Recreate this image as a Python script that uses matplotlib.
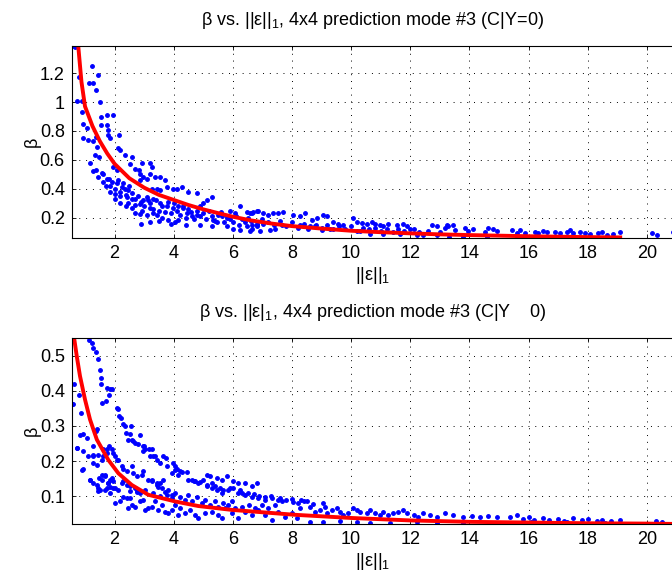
# coding=UTF-8
import numpy as np
import matplotlib.pyplot as plt

plt.rcParams['font.family'] = ['Liberation Sans', 'DejaVu Sans']
plt.rcParams['font.size'] = 13
plt.rcParams['mathtext.fontset'] = 'custom'
plt.rcParams['mathtext.rm'] = 'Liberation Sans'
plt.rcParams['mathtext.it'] = 'Liberation Sans:italic'

# ---- top panel: C|Y=0 ----
top_steep = [
    (0.55, 1.385), (0.66, 1.38), (0.81, 1.17), (1.23, 1.25), (1.45, 1.19), (1.26, 1.13),
    (1.15, 1.13), (1.37, 1.08), (0.74, 1.01), (0.89, 1.01), (1.51, 1.00), (0.89, 0.93),
    (1.53, 0.90), (1.73, 0.91), (1.93, 0.91), (0.92, 0.85), (1.06, 0.82), (1.53, 0.84),
    (1.73, 0.84), (1.77, 0.81), (1.79, 0.77), (1.85, 0.75), (0.92, 0.75), (1.11, 0.735),
    (1.28, 0.73), (1.37, 0.76), (1.40, 0.69), (2.15, 0.77), (1.34, 0.635), (1.49, 0.62),
    (2.13, 0.68), (2.19, 0.67), (2.35, 0.635), (2.58, 0.62), (1.17, 0.58), (1.28, 0.52),
    (1.37, 0.53), (1.57, 0.51), (1.62, 0.50), (1.45, 0.485), (1.73, 0.47), (1.96, 0.55),
    (2.07, 0.53), (2.52, 0.57), (2.69, 0.54), (2.81, 0.53), (2.92, 0.58), (2.86, 0.50),
    (2.97, 0.485), (3.20, 0.58), (3.26, 0.55),
]
top_band = [
    (1.90, 0.45), (2.07, 0.44), (1.85, 0.42), (2.24, 0.415), (2.35, 0.40), (2.47, 0.39),
    (1.85, 0.38), (2.02, 0.365), (2.19, 0.35), (2.41, 0.345), (2.58, 0.33), (2.86, 0.46),
    (3.09, 0.47), (3.20, 0.50), (3.37, 0.485), (3.54, 0.485), (3.71, 0.46), (3.26, 0.40),
    (3.43, 0.40), (3.54, 0.39), (3.76, 0.415), (3.99, 0.40), (4.10, 0.40), (4.27, 0.415),
    (4.50, 0.38), (4.78, 0.37), (2.47, 0.30), (2.69, 0.29), (2.86, 0.295), (2.97, 0.32),
    (3.14, 0.32), (3.31, 0.33), (2.58, 0.265), (2.92, 0.25), (3.20, 0.265), (2.69, 0.23),
    (2.86, 0.225), (3.09, 0.22), (3.31, 0.23), (3.54, 0.30), (3.76, 0.28), (3.99, 0.265),
    (4.16, 0.28), (3.43, 0.22), (3.59, 0.195), (3.82, 0.185), (4.05, 0.17), (4.16, 0.185),
    (4.33, 0.265), (4.44, 0.23), (4.61, 0.21), (4.78, 0.22), (4.89, 0.28), (5.00, 0.30),
    (5.12, 0.32), (5.29, 0.345), (5.34, 0.185), (5.45, 0.17), (5.62, 0.21), (5.79, 0.195),
    (5.91, 0.25), (6.07, 0.23), (6.24, 0.28), (6.47, 0.24), (6.64, 0.23), (6.81, 0.25),
    (5.79, 0.14), (6.02, 0.125), (6.24, 0.115), (6.47, 0.14), (6.64, 0.125), (6.81, 0.15),
    (2.90, 0.16), (3.20, 0.17), (3.50, 0.18), (3.90, 0.16), (4.40, 0.15), (4.90, 0.15),
    (5.30, 0.145), (1.60, 0.45), (1.70, 0.42), (1.80, 0.47), (2.00, 0.40), (2.10, 0.46),
    (2.20, 0.38), (2.30, 0.44), (2.40, 0.36), (2.50, 0.42), (2.60, 0.37), (2.70, 0.33),
    (2.00, 0.33), (2.20, 0.30), (2.40, 0.28), (2.80, 0.35), (2.90, 0.31), (3.00, 0.28),
    (3.10, 0.34), (3.20, 0.30), (3.30, 0.26), (3.40, 0.32), (3.50, 0.25), (3.60, 0.28),
    (3.70, 0.24), (3.80, 0.31), (3.90, 0.23), (4.00, 0.30), (4.10, 0.25), (4.20, 0.22),
    (4.30, 0.28), (4.40, 0.20), (4.50, 0.26), (4.60, 0.24), (4.70, 0.19), (4.80, 0.25),
    (4.90, 0.21), (5.00, 0.23), (5.10, 0.19), (5.20, 0.25), (5.30, 0.21), (5.40, 0.18),
    (5.50, 0.22), (5.60, 0.24), (5.70, 0.17), (5.80, 0.21), (5.90, 0.19), (6.00, 0.17),
    (6.10, 0.21), (6.20, 0.15), (6.30, 0.19), (6.40, 0.17), (6.50, 0.20), (6.60, 0.18),
    (6.80, 0.16), (7.00, 0.19), (7.20, 0.17), (7.40, 0.15), (7.60, 0.18), (7.80, 0.14),
]
top_tail = [
    (6.58, 0.23), (6.69, 0.24), (6.86, 0.25), (7.03, 0.23), (7.20, 0.22), (7.37, 0.23),
    (7.54, 0.235), (7.71, 0.24), (6.64, 0.15), (6.81, 0.14), (7.03, 0.16), (7.26, 0.115),
    (7.43, 0.125), (7.65, 0.15), (6.58, 0.105), (6.92, 0.105), (8.05, 0.22), (8.27, 0.21),
    (8.44, 0.23), (8.67, 0.185), (8.84, 0.195), (9.06, 0.22), (9.17, 0.21), (9.40, 0.17),
    (9.57, 0.16), (9.74, 0.15), (8.27, 0.15), (8.55, 0.125), (8.78, 0.14), (9.00, 0.115),
    (9.29, 0.125), (10.08, 0.195), (10.19, 0.17), (10.36, 0.165), (10.53, 0.16), (10.70, 0.17),
    (10.81, 0.16), (10.98, 0.15), (11.09, 0.14), (11.26, 0.155), (11.54, 0.15), (11.77, 0.16),
    (11.88, 0.14), (12.11, 0.125), (12.44, 0.08), (12.73, 0.15), (12.89, 0.14), (13.23, 0.15),
    (10.30, 0.105), (10.64, 0.09), (11.09, 0.09), (11.65, 0.09), (12.22, 0.08), (12.89, 0.08),
    (8.00, 0.17), (8.20, 0.13), (8.40, 0.16), (8.60, 0.14), (8.80, 0.15), (9.00, 0.13),
    (9.20, 0.15), (9.40, 0.12), (9.60, 0.14), (9.80, 0.12), (10.00, 0.14), (10.20, 0.11),
    (10.40, 0.13), (10.60, 0.12), (10.80, 0.13), (11.00, 0.11), (11.20, 0.12), (11.40, 0.10),
    (11.60, 0.12), (11.80, 0.11), (12.00, 0.12), (12.30, 0.10), (12.60, 0.11), (13.00, 0.10),
    (13.18, 0.126), (13.29, 0.142), (13.46, 0.149), (13.51, 0.115), (13.85, 0.126), (13.96, 0.11),
    (14.13, 0.119), (14.53, 0.103), (14.64, 0.126), (14.81, 0.119), (14.92, 0.11), (15.43, 0.115),
    (15.60, 0.092), (15.71, 0.115), (15.88, 0.096), (16.22, 0.103), (16.33, 0.092), (16.50, 0.108),
    (16.61, 0.103), (16.90, 0.103), (17.07, 0.092), (17.29, 0.103), (17.40, 0.115), (17.51, 0.096),
    (17.74, 0.103), (17.91, 0.096), (18.08, 0.085), (18.36, 0.096), (18.47, 0.103), (18.64, 0.08),
    (18.87, 0.085), (19.09, 0.099), (20.17, 0.096), (20.33, 0.08), (20.90, 0.10),
    (13.30, 0.07), (13.80, 0.07), (14.60, 0.065), (15.60, 0.062), (16.30, 0.06),
]
top_fit_x = [0.77, 0.88, 1.0, 1.25, 1.5, 1.75, 2.0, 2.5, 3.0, 3.5, 4.0, 4.5, 5.0, 5.5, 6.0,
             6.6, 7.3, 8, 9, 10, 11, 12, 13, 14, 15, 16, 17, 18, 19.1]
top_fit_y = [1.39, 1.14, 0.97, 0.835, 0.73, 0.645, 0.573, 0.473, 0.408, 0.358, 0.323, 0.288,
             0.258, 0.232, 0.207, 0.182, 0.16, 0.142, 0.125, 0.11, 0.10, 0.092, 0.085, 0.08,
             0.076, 0.072, 0.069, 0.066, 0.064]

# ---- bottom panel: C|Y!=0 ----
bot_arc = [
    (1.15, 0.545), (1.23, 0.537), (1.26, 0.521), (1.37, 0.509), (1.45, 0.491), (1.51, 0.458),
    (1.53, 0.437), (1.54, 0.418), (1.73, 0.409), (1.85, 0.406), (1.90, 0.404), (1.82, 0.387),
    (1.71, 0.370), (1.56, 0.366), (2.07, 0.352), (2.13, 0.347), (2.16, 0.328), (2.21, 0.323),
    (2.30, 0.304), (2.35, 0.299), (2.55, 0.299), (2.39, 0.280), (2.52, 0.278), (2.47, 0.261),
    (2.58, 0.261), (2.63, 0.256), (2.69, 0.252), (2.86, 0.273), (2.80, 0.249), (2.95, 0.244),
    (3.00, 0.242), (3.03, 0.235), (2.95, 0.228), (3.18, 0.235), (3.26, 0.233), (3.20, 0.214),
    (3.31, 0.214), (3.37, 0.214), (3.43, 0.204), (3.54, 0.195), (3.65, 0.214), (3.74, 0.209),
    (3.76, 0.185), (3.99, 0.193), (4.04, 0.185), (4.10, 0.176), (4.21, 0.171), (4.44, 0.168),
    (4.61, 0.147), (4.72, 0.142), (4.89, 0.139), (5.00, 0.147), (5.12, 0.128), (5.29, 0.138),
    (5.40, 0.128), (5.57, 0.123), (5.68, 0.119), (5.90, 0.123), (6.02, 0.123), (6.24, 0.119),
    (6.30, 0.109), (5.12, 0.161), (5.23, 0.156), (5.45, 0.152), (5.62, 0.147), (5.79, 0.156),
    (6.02, 0.142), (6.19, 0.137), (6.41, 0.137), (6.64, 0.128), (6.81, 0.137),
    (6.50, 0.110), (6.70, 0.105), (6.90, 0.100), (7.10, 0.098), (7.30, 0.100), (7.60, 0.095),
    (7.80, 0.090), (8.00, 0.092), (8.30, 0.090), (8.50, 0.085),
]
bot_left = [
    (0.55, 0.361), (0.61, 0.361), (0.63, 0.418), (0.81, 0.387), (0.86, 0.337), (0.74, 0.238),
    (0.92, 0.277), (1.06, 0.266), (0.94, 0.228), (0.93, 0.176), (1.26, 0.244), (1.40, 0.292),
    (1.37, 0.285), (1.11, 0.214), (1.28, 0.216), (1.26, 0.195), (1.45, 0.218), (1.40, 0.190),
    (1.56, 0.204), (1.60, 0.233), (1.73, 0.233), (1.82, 0.242), (1.90, 0.233), (1.96, 0.223),
    (2.02, 0.214), (2.07, 0.204), (2.13, 0.202), (1.73, 0.223), (1.62, 0.214), (1.17, 0.147),
    (1.28, 0.138), (1.48, 0.152), (1.57, 0.161), (1.68, 0.156), (1.85, 0.147), (1.79, 0.138),
    (1.96, 0.142), (1.45, 0.123), (1.45, 0.114), (1.68, 0.119), (1.73, 0.123), (1.85, 0.126),
    (1.96, 0.123), (2.24, 0.185), (2.30, 0.176), (2.41, 0.171), (2.58, 0.185), (2.63, 0.166),
    (2.75, 0.156), (2.92, 0.161), (2.97, 0.171), (2.30, 0.142), (2.41, 0.133), (2.52, 0.128),
    (2.69, 0.123), (2.52, 0.114), (2.75, 0.114), (2.86, 0.109), (3.03, 0.119), (3.14, 0.147),
    (3.26, 0.142), (3.43, 0.133), (3.54, 0.138), (3.65, 0.147), (3.31, 0.109), (3.54, 0.100),
    (3.76, 0.104), (3.93, 0.095),
]
bot_low = [
    (0.72, 0.237), (0.83, 0.275), (0.89, 0.175), (1.17, 0.146), (1.28, 0.213), (1.40, 0.132),
    (1.51, 0.118), (1.56, 0.146), (1.68, 0.161), (1.79, 0.137), (1.90, 0.151), (1.85, 0.108),
    (2.02, 0.123), (2.13, 0.118), (2.24, 0.137), (2.02, 0.080), (2.19, 0.085), (2.30, 0.099),
    (2.41, 0.094), (2.52, 0.094), (2.47, 0.065), (2.58, 0.075), (2.69, 0.070), (2.75, 0.113),
    (2.86, 0.085), (2.97, 0.089), (3.03, 0.061), (3.14, 0.065), (3.26, 0.070), (3.37, 0.085),
    (3.48, 0.061), (3.59, 0.075), (3.71, 0.056), (3.82, 0.051), (3.93, 0.061), (4.05, 0.075),
    (4.16, 0.046), (4.22, 0.065), (4.38, 0.051), (4.55, 0.061), (4.72, 0.046), (4.83, 0.037),
    (5.06, 0.051), (5.29, 0.056), (5.51, 0.046), (5.62, 0.037), (5.74, 0.065), (5.96, 0.051),
    (6.19, 0.037), (6.41, 0.056), (6.64, 0.046), (6.86, 0.061), (7.09, 0.046), (7.31, 0.032),
    (7.54, 0.056), (7.77, 0.042), (7.99, 0.051),
    (3.26, 0.146), (3.43, 0.137), (3.48, 0.127), (3.59, 0.123), (3.71, 0.113), (3.82, 0.118),
    (3.93, 0.104), (4.05, 0.108), (4.22, 0.099), (4.38, 0.089), (4.50, 0.104), (4.61, 0.085),
    (4.78, 0.099), (4.95, 0.080), (5.06, 0.089), (5.23, 0.075), (5.40, 0.085), (5.51, 0.070),
    (5.68, 0.080), (5.85, 0.075), (5.96, 0.085), (6.07, 0.065), (6.30, 0.070), (6.53, 0.075),
    (6.75, 0.065), (6.98, 0.075), (7.20, 0.065), (7.43, 0.075), (7.65, 0.085),
    (3.93, 0.165), (4.05, 0.175), (4.16, 0.161), (4.27, 0.170), (4.50, 0.146), (4.67, 0.142),
    (4.83, 0.137), (5.12, 0.132), (5.29, 0.123), (5.45, 0.118), (5.62, 0.108), (5.85, 0.118),
    (6.19, 0.108), (6.41, 0.104), (6.64, 0.099), (6.86, 0.094), (7.09, 0.089), (7.31, 0.094),
    (7.54, 0.089),
]
bot_tail = [
    (8.05, 0.084), (8.22, 0.080), (8.39, 0.087), (8.27, 0.065), (8.61, 0.070), (8.72, 0.078),
    (8.78, 0.056), (8.95, 0.061), (9.06, 0.080), (9.12, 0.070), (9.17, 0.051), (9.34, 0.061),
    (9.51, 0.065), (9.63, 0.056), (9.74, 0.046), (9.91, 0.051), (10.08, 0.065), (10.19, 0.061),
    (10.30, 0.056), (10.53, 0.051), (10.64, 0.061), (10.81, 0.051), (10.98, 0.046), (11.09, 0.056),
    (11.26, 0.046), (11.43, 0.051), (11.60, 0.056), (11.77, 0.061), (11.88, 0.051), (12.11, 0.046),
    (12.27, 0.042), (12.44, 0.051), (12.67, 0.046), (12.89, 0.042), (13.18, 0.051), (13.46, 0.046),
    (13.80, 0.042), (14.08, 0.044), (14.36, 0.040), (14.64, 0.044), (14.92, 0.040), (15.38, 0.042),
    (15.60, 0.046), (8.16, 0.037), (8.61, 0.027), (9.06, 0.027), (9.63, 0.030), (10.19, 0.026),
    (10.64, 0.024), (11.32, 0.024), (12.22, 0.027), (12.89, 0.024), (13.80, 0.023),
    (15.80, 0.035), (16.00, 0.040), (16.20, 0.032), (16.50, 0.038), (16.70, 0.033), (17.00, 0.036),
    (17.20, 0.030), (17.50, 0.037), (17.80, 0.032), (18.00, 0.035), (18.30, 0.030), (18.50, 0.033),
    (18.80, 0.030), (19.10, 0.032), (20.30, 0.030), (20.50, 0.026), (16.10, 0.027), (17.30, 0.026),
    (18.60, 0.025),
]
bot_fit_x = [0.63, 0.72, 0.83, 1.0, 1.17, 1.4, 1.79, 2.13, 2.58, 3.14, 4.05, 4.83, 5.96, 8.1,
             10, 12, 14, 16, 18, 20, 21]
bot_fit_y = [0.551, 0.499, 0.442, 0.375, 0.318, 0.261, 0.203, 0.165, 0.132, 0.104, 0.085,
             0.072, 0.061, 0.047, 0.038, 0.031, 0.027, 0.025, 0.023, 0.022, 0.021]

x_ticks = np.arange(2, 21, 2)
top_yticks = [0.2, 0.4, 0.6, 0.8, 1.0, 1.2]
top_ylabels = ['0.2', '0.4', '0.6', '0.8', '1', '1.2']
bot_yticks = [0.1, 0.2, 0.3, 0.4, 0.5]
bot_ylabels = ['0.1', '0.2', '0.3', '0.4', '0.5']

fig = plt.figure(figsize=(6.72, 5.81), dpi=100)
ax1 = fig.add_axes([0.1067, 0.5904, 0.8963, 0.3310])
ax2 = fig.add_axes([0.1067, 0.0976, 0.8963, 0.3206])

panels = [
    (ax1, top_steep + top_band + top_tail, top_fit_x, top_fit_y, (0.06, 1.39),
     top_yticks, top_ylabels, r'β vs. ||ε||$_1$, 4x4 prediction mode #3 (C|Y=0)'),
    (ax2, bot_arc + bot_left + bot_low + bot_tail, bot_fit_x, bot_fit_y, (0.02, 0.55),
     bot_yticks, bot_ylabels, r'β vs. ||ε|$_1$, 4x4 prediction mode #3 (C|Y    0)'),
]

for ax, pts, fx, fy, ylim, yt, yl, title in panels:
    px, py = zip(*pts)
    ax.plot(px, py, '.', color='b', markersize=5)
    ax.plot(fx, fy, '-', color='r', linewidth=2.8)
    ax.set_xlim(0.55, 20.92)
    ax.set_ylim(*ylim)
    ax.set_xticks(x_ticks)
    ax.set_yticks(yt)
    ax.set_yticklabels(yl)
    ax.grid(True, color='k', linestyle=(0, (1, 6)), linewidth=0.7)
    ax.tick_params(direction='in', top=True, right=False, length=3, width=0.6,
                   labelsize=13, pad=5)
    for s in ax.spines.values():
        s.set_linewidth(0.8)
    ax.set_xlabel(r'||ε||$_1$', fontsize=13, labelpad=2)
    ax.set_ylabel('β', fontsize=13, labelpad=-1)
    ax.set_title(title, fontsize=13, pad=15)

plt.savefig('out.png', dpi=100)
